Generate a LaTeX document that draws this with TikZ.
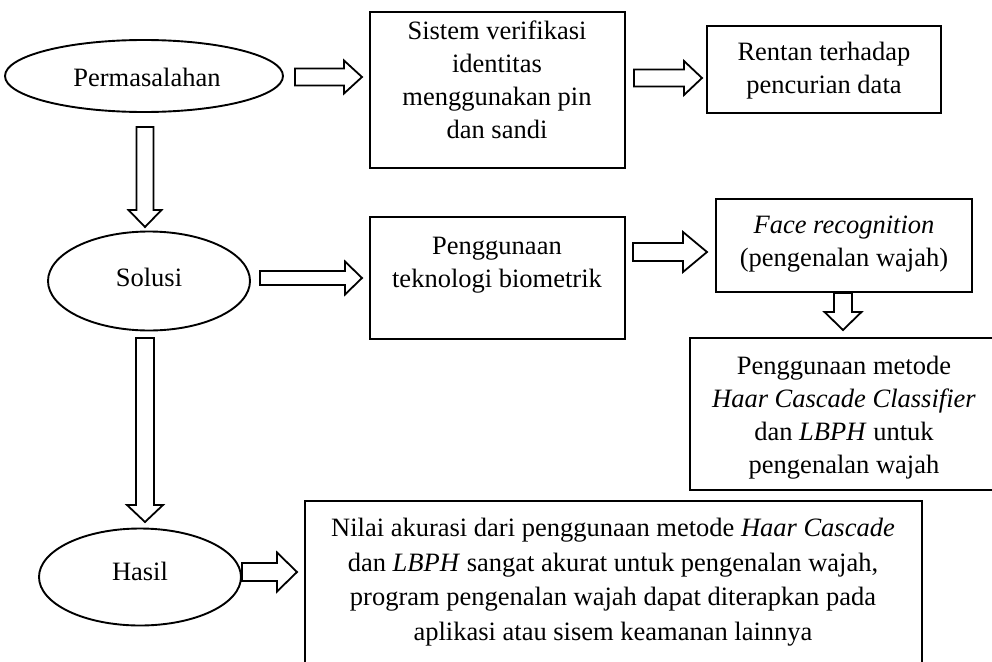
\documentclass[tikz,border=0pt]{standalone}
\usepackage{fontspec}
\setmainfont{Liberation Serif}
\usetikzlibrary{shapes.geometric,calc}
\begin{document}
\begin{tikzpicture}[x=1pt,y=-1pt,line width=1.9pt,
  box/.style={draw, rectangle, inner sep=0pt},
  oval/.style={draw, ellipse, inner sep=0pt},
  txt/.style={align=center, inner sep=0pt, font=\fontsize{26.5}{33}\selectfont},
  barrowR/.style n args={3}{draw, fill=white, line width=1.8pt, to path={let \p1=(\tikztostart), \p2=(\tikztotarget) in
    (\x1,\y1-#1pt) -- (\x2-#3pt,\y1-#1pt) -- (\x2-#3pt,\y1-#2pt) -- (\x2,\y1) -- (\x2-#3pt,\y1+#2pt) -- (\x2-#3pt,\y1+#1pt) -- (\x1,\y1+#1pt) -- cycle}},
  barrowD/.style n args={3}{draw, fill=white, line width=1.8pt, to path={let \p1=(\tikztostart), \p2=(\tikztotarget) in
    (\x1-#1pt,\y1) -- (\x1-#1pt,\y2+#3pt) -- (\x1-#2pt,\y2+#3pt) -- (\x1,\y2) -- (\x1+#2pt,\y2+#3pt) -- (\x1+#1pt,\y2+#3pt) -- (\x1+#1pt,\y1) -- cycle}}]
\useasboundingbox (0,0) rectangle (992,661);
\clip (0,0) rectangle (992,661);
\fill[white] (0,0) rectangle (992,661);

% ellipses
\node[oval, minimum width=278, minimum height=72] (perm) at (144,76) {};
\node[txt] (permt) at (147,77) {Permasalahan};
\node[oval, minimum width=202, minimum height=99] (sol) at (149,281) {};
\node[txt] (solt) at (149,277) {Solusi};
\node[oval, minimum width=202, minimum height=97] (has) at (140,577) {};
\node[txt] (hast) at (140,571) {Hasil};

% boxes
\node[box, minimum width=255, minimum height=156] (b1) at (497.5,90) {};
\node[txt] (b1t) at (497,80) {Sistem verifikasi\\identitas\\menggunakan pin\\dan sandi};
\node[box, minimum width=255, minimum height=122] (b2) at (497.5,278) {};
\node[txt] (b2t) at (497,265) {Penggunaan\\teknologi biometrik};
\node[box, minimum width=234, minimum height=87] (rt) at (824,69.5) {};
\node[txt] (rtt) at (824,71) {Rentan terhadap\\pencurian data};
\node[box, minimum width=256, minimum height=93] (fr) at (844,245.5) {};
\node[txt] (frt) at (844,244) {\textit{Face recognition}\\(pengenalan wajah)};
\node[box, minimum width=308, minimum height=152] (hc) at (844,414) {};
\node[txt] (hct) at (844,418) {Penggunaan metode\\\textit{Haar Cascade Classifier}\\dan \textit{LBPH} untuk\\pengenalan wajah};
\node[box, minimum width=617, minimum height=220] (nb) at (613.5,611) {};
\node[txt, font=\fontsize{26.5}{34.5}\selectfont] (nbt) at (613,582) {Nilai akurasi dari penggunaan metode \textit{Haar Cascade}\\dan \textit{LBPH} sangat akurat untuk pengenalan wajah,\\program pengenalan wajah dapat diterapkan pada\\aplikasi atau sisem keamanan lainnya};

% arrow end points
\coordinate (a1s) at (295,77); \coordinate (a1e) at (362,77);
\coordinate (a2s) at (634,78); \coordinate (a2e) at (702,78);
\coordinate (a3s) at (260,278); \coordinate (a3e) at (362,278);
\coordinate (a4s) at (633,252); \coordinate (a4e) at (707,252);
\coordinate (a5s) at (843,293); \coordinate (a5e) at (843,330);
\coordinate (a6s) at (145,127); \coordinate (a6e) at (145,227);
\coordinate (a7s) at (145,338); \coordinate (a7e) at (145,522);
\coordinate (a8s) at (242,572); \coordinate (a8e) at (297,572);

\draw[barrowR={8.5}{16.5}{18}] (a1s) to (a1e);
\draw[barrowR={8.5}{17}{18}] (a2s) to (a2e);
\draw[barrowR={7}{16.5}{17}] (a3s) to (a3e);
\draw[barrowR={9}{20}{24}] (a4s) to (a4e);
\draw[barrowD={9}{18.5}{18}] (a5s) to (a5e);
\draw[barrowD={8.5}{16.5}{17}] (a6s) to (a6e);
\draw[barrowD={9}{18}{17}] (a7s) to (a7e);
\draw[barrowR={9}{19.5}{20}] (a8s) to (a8e);
\end{tikzpicture}
\end{document}
